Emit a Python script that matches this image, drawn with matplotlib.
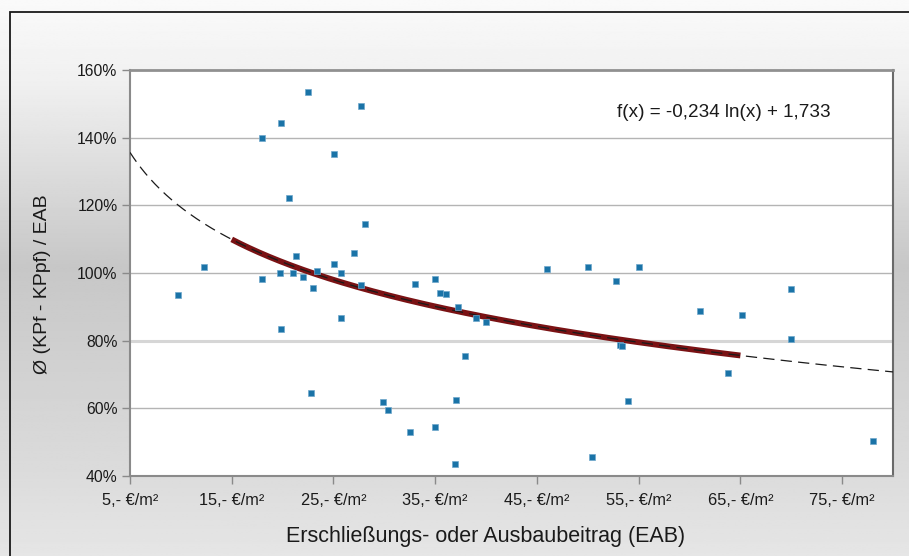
import numpy as np
import matplotlib
matplotlib.use('Agg')
from matplotlib import pyplot as plt
from matplotlib.patches import Rectangle
from matplotlib.ticker import FixedLocator, FuncFormatter

plt.rcParams['font.family'] = ['Liberation Sans', 'DejaVu Sans']

# beitrag in EUR/m2 and ratio in %
eab = [9.7, 12.3, 18.0, 18.0, 19.8, 19.7, 19.8, 20.6, 21.0, 21.3, 22.0, 22.5,
       23.0, 23.4, 22.8, 25.1, 25.1, 25.7, 25.7, 27.0, 27.7, 27.7, 28.1, 29.9,
       30.4, 32.5, 33.0, 35.0, 35.0, 35.5, 36.1, 36.9, 37.0, 37.2, 37.9, 39.0,
       40.0, 46.0, 50.0, 50.4, 52.8, 53.2, 53.4, 54.0, 55.0, 61.0, 63.8, 65.2,
       70.0, 70.0, 78.0]
ratio = [93.4, 101.7, 139.8, 98.3, 144.3, 100.1, 83.4, 122.3, 100.1, 105.0, 98.7, 153.4,
         95.5, 100.7, 64.4, 135.1, 102.6, 100.1, 86.6, 105.8, 149.4, 96.4, 114.5, 61.8,
         59.4, 53.1, 96.7, 98.2, 54.5, 94.2, 93.7, 43.5, 62.5, 89.9, 75.5, 86.8,
         85.5, 101.1, 101.7, 45.5, 97.6, 78.8, 78.3, 62.1, 101.7, 88.8, 70.3, 87.5,
         95.3, 80.4, 50.3]

coef_a = -0.234
coef_b = 1.733
trend_start, trend_end = 15, 65

x_ticks = [5, 15, 25, 35, 45, 55, 65, 75]
y_ticks = [40, 60, 80, 100, 120, 140, 160]

W, H = 909, 556
fig = plt.figure(figsize=(W / 100, H / 100), dpi=100)

# grey gradient background
bg = fig.add_axes([0, 0, 1, 1], zorder=-10)
rows = np.linspace(0, 1, 300)
stops = [0.0, 0.15, 0.48, 0.85, 1.0]
vals = [0.98, 0.94, 0.78, 0.86, 0.90]
shade = np.interp(rows, stops, vals)
bg.imshow(np.repeat(shade[:, None], 2, axis=1), cmap='gray', vmin=0, vmax=1,
          aspect='auto', extent=[0, 1, 0, 1], origin='upper')
bg.set_xlim(0, 1)
bg.set_ylim(0, 1)
bg.axis('off')
fig.patches.append(Rectangle((10 / W, -0.1), 1.2, 1 - 12 / H + 0.1, transform=fig.transFigure,
                             fill=False, edgecolor='#1a1a1a', linewidth=1.3))

ax = fig.add_axes([130 / W, 80 / H, 763 / W, 406 / H])
ax.set_facecolor('white')

for yv in y_ticks[1:-1]:
    if yv == 80:
        ax.axhline(yv, color='#d6d6d6', lw=2.2, zorder=1)
    else:
        ax.axhline(yv, color='#b4b4b4', lw=1.0, zorder=1)

xs = np.linspace(5, 80, 400)
xr = np.linspace(trend_start, trend_end, 300)
ax.plot(xr, (coef_a * np.log(xr) + coef_b) * 100, color='#7a1214', lw=4.2,
        solid_capstyle='butt', zorder=2)
ax.plot(xs, (coef_a * np.log(xs) + coef_b) * 100, color='#1a1a1a', lw=0.9,
        dashes=(9, 5), zorder=3)

ax.plot(eab, ratio, 's', color='#1a73a7', markersize=4.2, markeredgecolor='#6fa8cc',
        markeredgewidth=0.5, linestyle='none', zorder=4)

ax.set_xlim(5, 80)
ax.set_ylim(40, 160)
ax.xaxis.set_major_locator(FixedLocator(x_ticks))
ax.yaxis.set_major_locator(FixedLocator(y_ticks))
ax.xaxis.set_major_formatter(FuncFormatter(lambda v, p: '%d,- €/m²' % v))
ax.yaxis.set_major_formatter(FuncFormatter(lambda v, p: '%d%%' % v))
ax.tick_params(axis='x', direction='out', length=6, width=1, color='#8a8a8a',
               labelsize=11.8, pad=6, labelcolor='#1a1a1a')
ax.tick_params(axis='y', direction='out', length=6, width=1, color='#8a8a8a',
               labelsize=11.3, pad=3, labelcolor='#1a1a1a')

ax.spines['top'].set_color('#909090')
ax.spines['top'].set_linewidth(2)
ax.spines['right'].set_color('#6a6a6a')
ax.spines['right'].set_linewidth(1.5)
ax.spines['left'].set_color('#8a8a8a')
ax.spines['left'].set_linewidth(1.5)
ax.spines['bottom'].set_color('#8a8a8a')
ax.spines['bottom'].set_linewidth(1.5)

ax.text(0.638, 0.895, 'f(x) = -0,234 ln(x) + 1,733', transform=ax.transAxes,
        fontsize=13.6, color='#1a1a1a', ha='left', va='center')

ax.set_xlabel('Erschließungs- oder Ausbaubeitrag (EAB)', fontsize=15.5, color='#1a1a1a')
ax.xaxis.set_label_coords(0.466, -0.122)
ax.set_ylabel('Ø (KPf - KPpf) / EAB', fontsize=14, color='#1a1a1a')
ax.yaxis.set_label_coords(-0.103, 0.473)

fig.savefig('out.png', dpi=100)
